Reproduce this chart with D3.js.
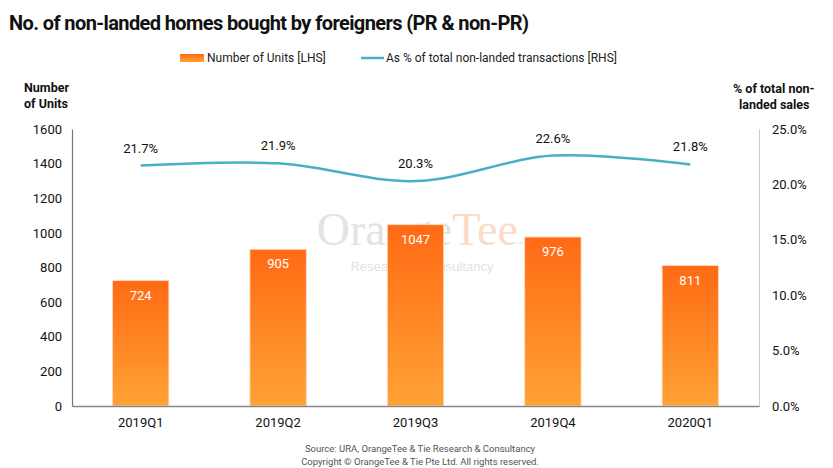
<!DOCTYPE html>
<html><head><meta charset="utf-8">
<script src="https://cdn.jsdelivr.net/npm/d3@7"></script>
<style>body{margin:0;background:#fff;font-family:Roboto,"Noto Sans",sans-serif;}</style>
</head><body><svg id="c" width="833" height="468"></svg>
<script>
const categories = ["2019Q1","2019Q2","2019Q3","2019Q4","2020Q1"];
const units = [724, 905, 1047, 976, 811];
const pctShare = [21.7, 21.9, 20.3, 22.6, 21.8];
const leftTicks = [0,200,400,600,800,1000,1200,1400,1600];
const rightTicks = [0,5,10,15,20,25];

const svg = d3.select("#c");
const m = {l:72, r:759, t:129, b:406};
const x = d3.scaleBand().domain(categories).range([m.l, m.r]).paddingInner(0.59).paddingOuter(0.295);
const yL = d3.scaleLinear().domain([0,1600]).range([m.b, m.t]);
const yR = d3.scaleLinear().domain([0,25]).range([m.b, m.t]);

const defs = svg.append("defs");
const g = defs.append("linearGradient").attr("id","bg").attr("x1",0).attr("y1",0).attr("x2",0).attr("y2",1);
g.append("stop").attr("offset","0%").attr("stop-color","#FF6A14");
g.append("stop").attr("offset","100%").attr("stop-color","#FFA235");

// title
svg.append("text").attr("x",9).attr("y",30).attr("font-size",20).attr("font-weight","bold")
  .attr("fill","#111").attr("textLength",520).text("No. of non-landed homes bought by foreigners (PR & non-PR)");

// legend
svg.append("rect").attr("x",180).attr("y",54).attr("width",24).attr("height",8).attr("fill","url(#bg)");
svg.append("text").attr("x",207).attr("y",62).attr("font-size",12).attr("fill","#222").text("Number of Units [LHS]");
svg.append("line").attr("x1",361).attr("x2",384).attr("y1",58).attr("y2",58).attr("stroke","#4AAEC6").attr("stroke-width",2.5);
svg.append("text").attr("x",386).attr("y",62).attr("font-size",12).attr("fill","#222").text("As % of total non-landed transactions [RHS]");

// axis titles
svg.append("text").attr("x",24).attr("y",92).attr("font-size",12.5).attr("font-weight","bold").attr("fill","#111").text("Number");
svg.append("text").attr("x",24).attr("y",108).attr("font-size",12.5).attr("font-weight","bold").attr("fill","#111").text("of Units");
svg.append("text").attr("x",733).attr("y",93).attr("font-size",12.5).attr("font-weight","bold").attr("fill","#111").text("% of total non-");
svg.append("text").attr("x",739).attr("y",109).attr("font-size",12.5).attr("font-weight","bold").attr("fill","#111").text("landed sales");

// watermark
svg.append("text").attr("x",420).attr("y",245).attr("text-anchor","middle").attr("font-family","'Liberation Serif',serif")
  .attr("font-size",46).attr("fill","#ddd").attr("opacity",0.8)
  .html('Orange<tspan fill="#fbd3bd">Tee</tspan><tspan font-size="7" fill="#f5c0a0">®</tspan>');
svg.append("text").attr("x",422).attr("y",271).attr("text-anchor","middle").attr("font-family","'Liberation Sans',Arial,sans-serif")
  .attr("font-size",13).attr("fill","#e2e2e2").text("Research & Consultancy");

// bars
svg.selectAll("rect.bar").data(units).join("rect").attr("class","bar")
  .attr("x",(d,i)=>x(categories[i])).attr("width",x.bandwidth())
  .attr("y",d=>yL(d)).attr("height",d=>yL(0)-yL(d))
  .attr("fill","url(#bg)").attr("stroke","#ffd9bf").attr("stroke-width",0.8);
svg.selectAll("text.bl").data(units).join("text").attr("class","bl")
  .attr("x",(d,i)=>x(categories[i])+x.bandwidth()/2).attr("y",d=>yL(d)+19)
  .attr("text-anchor","middle").attr("font-size",13).attr("fill","#fff").text(d=>d);

// axes
const axL = svg.append("g").attr("transform",`translate(${m.l},0)`)
  .call(d3.axisLeft(yL).tickValues(leftTicks).tickSize(0).tickPadding(10).tickFormat(d3.format("d")));
axL.select(".domain").attr("stroke","#777").attr("stroke-width",1.2);
axL.selectAll("text").attr("font-size",13).attr("fill","#111").attr("font-family","Roboto,sans-serif");

const axR = svg.append("g").attr("transform",`translate(${m.r},0)`)
  .call(d3.axisRight(yR).tickValues(rightTicks).tickSize(0).tickPadding(13).tickFormat(d=>d.toFixed(1)+"%"));
axR.select(".domain").attr("stroke","#ccc").attr("stroke-width",1);
axR.selectAll("text").attr("font-size",13).attr("fill","#111").attr("font-family","Roboto,sans-serif");

const axB = svg.append("g").attr("transform",`translate(0,${m.b})`)
  .call(d3.axisBottom(x).tickSize(0).tickPadding(12));
axB.select(".domain").attr("stroke","#888").attr("stroke-width",1.5);
axB.selectAll("text").attr("font-size",13).attr("fill","#111").attr("font-family","Roboto,sans-serif");

// line
const line = d3.line().x((d,i)=>x(categories[i])+x.bandwidth()/2).y(d=>yR(d)).curve(d3.curveCatmullRom.alpha(0.5));
svg.append("path").datum(pctShare).attr("d",line).attr("fill","none").attr("stroke","#4AAEC6").attr("stroke-width",2.5);
svg.selectAll("text.pl").data(pctShare).join("text").attr("class","pl")
  .attr("x",(d,i)=>x(categories[i])+x.bandwidth()/2).attr("y",d=>yR(d)-13)
  .attr("text-anchor","middle").attr("font-size",13).attr("fill","#111").text(d=>d.toFixed(1)+"%");

// source
svg.append("text").attr("x",420).attr("y",452).attr("text-anchor","middle").attr("font-size",9.5).attr("fill","#555").text("Source: URA, OrangeTee & Tie Research & Consultancy");
svg.append("text").attr("x",420).attr("y",465).attr("text-anchor","middle").attr("font-size",9.5).attr("fill","#555").text("Copyright © OrangeTee & Tie Pte Ltd. All rights reserved.");
</script></body></html>
